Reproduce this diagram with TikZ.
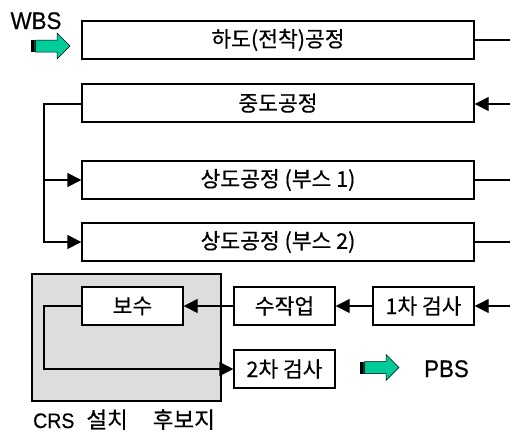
\documentclass[tikz,border=0pt]{standalone}
\usepackage{fontspec}
\setmainfont{Noto Sans CJK KR}[FakeBold=0.4]
\newfontfamily\latinf{Liberation Sans}[FakeBold=0.5, FakeStretch=0.93]
\usetikzlibrary{arrows.meta}
\definecolor{arrgreen}{RGB}{0,204,153}
\definecolor{crsgray}{RGB}{221,221,221}
\tikzset{
  x=1pt, y=-1pt,
  conn/.style={line width=1.4pt},
  arr/.style={conn, -{Triangle[length=14pt,width=14pt]}},
  procbox/.style={draw, line width=1.4pt, fill=white, rectangle, minimum height=38pt, inner sep=0pt, font=\fontsize{21.5}{24}\selectfont},
  widebox/.style={procbox, minimum width=392pt},
  smallbox/.style={procbox, minimum width=101pt},
  lbl/.style={inner sep=0pt, anchor=base, font=\latinf\fontsize{24}{28}\selectfont},
}
\newcommand{\fatarrow}[2]{% x-left, y-center
  \fill[black] (#1,#2-6) rectangle (#1+4.5,#2+6);
  \fill[arrgreen!35!black] (#1+2.5,#2-6) rectangle (#1+4.5,#2+6);
  \fill[arrgreen, draw=black, line width=0.5pt] (#1+4.5,#2-6) -- (#1+26,#2-6) -- (#1+26,#2-13) -- (#1+39,#2) -- (#1+26,#2+13) -- (#1+26,#2+6) -- (#1+4.5,#2+6) -- cycle;
}
\begin{document}
\begin{tikzpicture}
\useasboundingbox (0,0) rectangle (510,432);
% gray CRS area
\node[draw, line width=1.4pt, fill=crsgray, minimum width=189pt, minimum height=127pt, inner sep=0pt] (crs) at (126.5,337.5) {};
% boxes
\node[widebox] (hado) at (278,40) {하도(전착)공정};
\node[widebox] (jungdo) at (278,103) {중도공정};
\node[widebox] (sang1) at (278,180) {상도공정 (부스 1)};
\node[widebox] (sang2) at (278,242) {상도공정 (부스 2)};
\node[smallbox] (bosu) at (132.5,306) {보수};
\node[smallbox] (sujak) at (284.5,306) {수작업};
\node[smallbox] (cha1) at (423.5,306) {1차 검사};
\node[smallbox] (cha2) at (284.5,369) {2차 검사};
% free ends and bends
\coordinate (r1) at (510,40);
\coordinate (r2) at (510,104);
\coordinate (r3) at (510,180);
\coordinate (r4) at (510,242);
\coordinate (r5) at (510,306);
\coordinate (lb) at (44,104);
\coordinate (lb1) at (44,180);
\coordinate (lb2) at (44,306);
% connectors
\draw[conn] (hado.east) -- (r1);
\draw[arr] (r2) -- (jungdo.east |- r2);
\draw[conn] (sang1.east) -- (r3);
\draw[conn] (sang2.east) -- (r4);
\draw[arr] (r5) -- (cha1.east);
\draw[conn] (jungdo.west |- lb) -- (lb) -- (lb1);
\draw[arr] (lb1) -- (sang1.west);
\draw[arr] (lb) |- (sang2.west);
\draw[arr] (cha1.west) -- (sujak.east);
\draw[arr] (sujak.west) -- (bosu.east);
\draw[arr] (bosu.west) -- (lb2) |- (cha2.west);
% labels
\node[lbl] (wbs) at (36,29) {WBS};
\fatarrow{31}{46}
\fatarrow{360}{367.5}
\node[lbl] (pbs) at (446.5,377) {PBS};
\node[inner sep=0pt, anchor=base west, font=\fontsize{22.5}{24}\selectfont] (crslbl) at (33,428) {{\latinf\fontsize{21}{24}\selectfont CRS}\hspace{12pt}설치\hspace{25pt}후보지};
\end{tikzpicture}
\end{document}
